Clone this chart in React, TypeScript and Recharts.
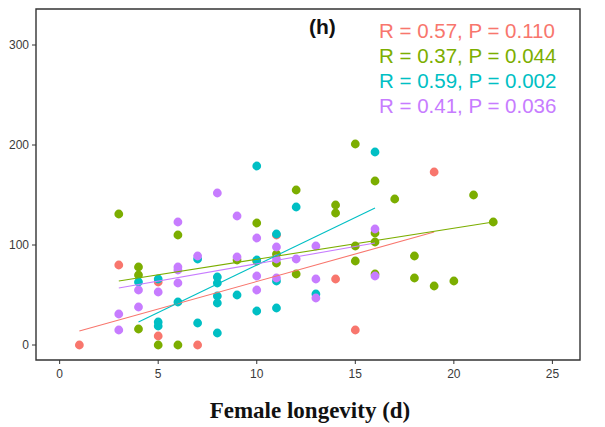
import { ScatterChart, Scatter, XAxis, YAxis, ReferenceArea } from 'recharts';

// female longevity (d) vs. value
const redPoints = [
  [1, 0], [3, 80], [5, 9], [5, 63], [7, 0], [11, 110], [14, 66], [15, 15], [19, 173],
];
const greenPoints = [
  [3, 131], [4, 78], [4, 70], [4, 16], [5, 0], [6, 0], [6, 110], [9, 85], [10, 122], [10, 84],
  [11, 91], [11, 82], [12, 155], [12, 71], [14, 140], [14, 132], [15, 201], [15, 99], [15, 84],
  [16, 164], [16, 112], [16, 103], [16, 71], [17, 146], [18, 89], [18, 67], [19, 59], [20, 64],
  [21, 150], [22, 123],
];
const cyanPoints = [
  [4, 63], [5, 66], [5, 23], [5, 19], [6, 43], [7, 86], [7, 22], [8, 68], [8, 62], [8, 49],
  [8, 42], [8, 12], [9, 50], [10, 179], [10, 85], [10, 34], [11, 111], [11, 64], [11, 37],
  [12, 138], [13, 51], [16, 193],
];
const purplePoints = [
  [3, 31], [3, 15], [4, 55], [4, 38], [5, 53], [6, 123], [6, 78], [6, 75], [6, 62], [7, 89],
  [8, 152], [9, 129], [9, 88], [10, 107], [10, 69], [10, 55], [11, 98], [11, 86], [11, 67],
  [12, 86], [13, 99], [13, 66], [13, 47], [16, 116], [16, 69],
];

// fitted lines (start / end)
const redFit = [[1, 14], [19, 113]];
const greenFit = [[3, 64], [22, 123]];
const cyanFit = [[4, 23], [16, 137]];
const purpleFit = [[3, 57], [16, 102]];

const statLabels = [
  'R = 0.57, P = 0.110',
  'R = 0.37, P = 0.044',
  'R = 0.59, P = 0.002',
  'R = 0.41, P = 0.036',
];

const xTicks = [0, 5, 10, 15, 20, 25];
const yTicks = [0, 100, 200, 300];

const COLORS = ['#F8766D', '#7CAE00', '#00BFC4', '#C77CFF'];

const toXY = (pts: number[][]) => pts.map(([x, y]) => ({ x, y }));

const series = [redPoints, greenPoints, cyanPoints, purplePoints];
const fits = [redFit, greenFit, cyanFit, purpleFit];

const X_DOMAIN = [-1.2, 26.4];
const Y_DOMAIN = [-15, 336];

const tickStyle = { fill: '#3a3a3a', fontSize: 12, fontFamily: 'Liberation Sans, Arial, sans-serif' };

const NoDot = () => <g />;

export default function App() {
  return (
    <div style={{ position: 'absolute', left: 0, top: 0, width: 605, height: 427, background: '#fff' }}>
      <ScatterChart
        width={605}
        height={427}
        margin={{ top: 9, right: 25, bottom: 37, left: 0 }}
      >
        <XAxis
          type="number"
          dataKey="x"
          domain={X_DOMAIN}
          ticks={xTicks}
          allowDataOverflow
          axisLine={false}
          tickLine={{ stroke: '#333' }}
          tickSize={4}
          tickMargin={5}
          tick={tickStyle}
          height={30}
        />
        <YAxis
          type="number"
          dataKey="y"
          domain={Y_DOMAIN}
          ticks={yTicks}
          allowDataOverflow
          axisLine={false}
          tickLine={{ stroke: '#333' }}
          tickSize={4}
          tickMargin={3}
          tick={tickStyle}
          width={36}
        />
        <ReferenceArea
          x1={X_DOMAIN[0]}
          x2={X_DOMAIN[1]}
          y1={Y_DOMAIN[0]}
          y2={Y_DOMAIN[1]}
          fill="none"
          stroke="#333"
          strokeWidth={1.4}
          fillOpacity={0}
        />
        {series.map((pts, i) => (
          <Scatter
            key={`pts-${i}`}
            data={toXY(pts)}
            fill={COLORS[i]}
            isAnimationActive={false}
            shape={(p: any) => <circle cx={p.cx} cy={p.cy} r={4.4} fill={COLORS[i]} />}
          />
        ))}
        {fits.map((pts, i) => (
          <Scatter
            key={`fit-${i}`}
            data={toXY(pts)}
            line={{ stroke: COLORS[i], strokeWidth: 1.1 }}
            shape={NoDot}
            isAnimationActive={false}
          />
        ))}
      </ScatterChart>
      <svg
        width={605}
        height={427}
        style={{ position: 'absolute', left: 0, top: 0, pointerEvents: 'none' }}
      >
        <text
          x={309}
          y={34}
          fontFamily="Liberation Sans, Arial, sans-serif"
          fontWeight="bold"
          fontSize={21}
          fill="#111"
        >
          (h)
        </text>
        {statLabels.map((s, i) => (
          <text
            key={s}
            x={379}
            y={38 + i * 25}
            fontFamily="Liberation Sans, Arial, sans-serif"
            fontSize={20.5}
            fill={COLORS[i]}
          >
            {s}
          </text>
        ))}
        <text
          x={310}
          y={418}
          textAnchor="middle"
          fontFamily="Liberation Serif, Times New Roman, serif"
          fontWeight="bold"
          fontSize={23}
          fill="#111"
        >
          Female longevity (d)
        </text>
      </svg>
    </div>
  );
}
